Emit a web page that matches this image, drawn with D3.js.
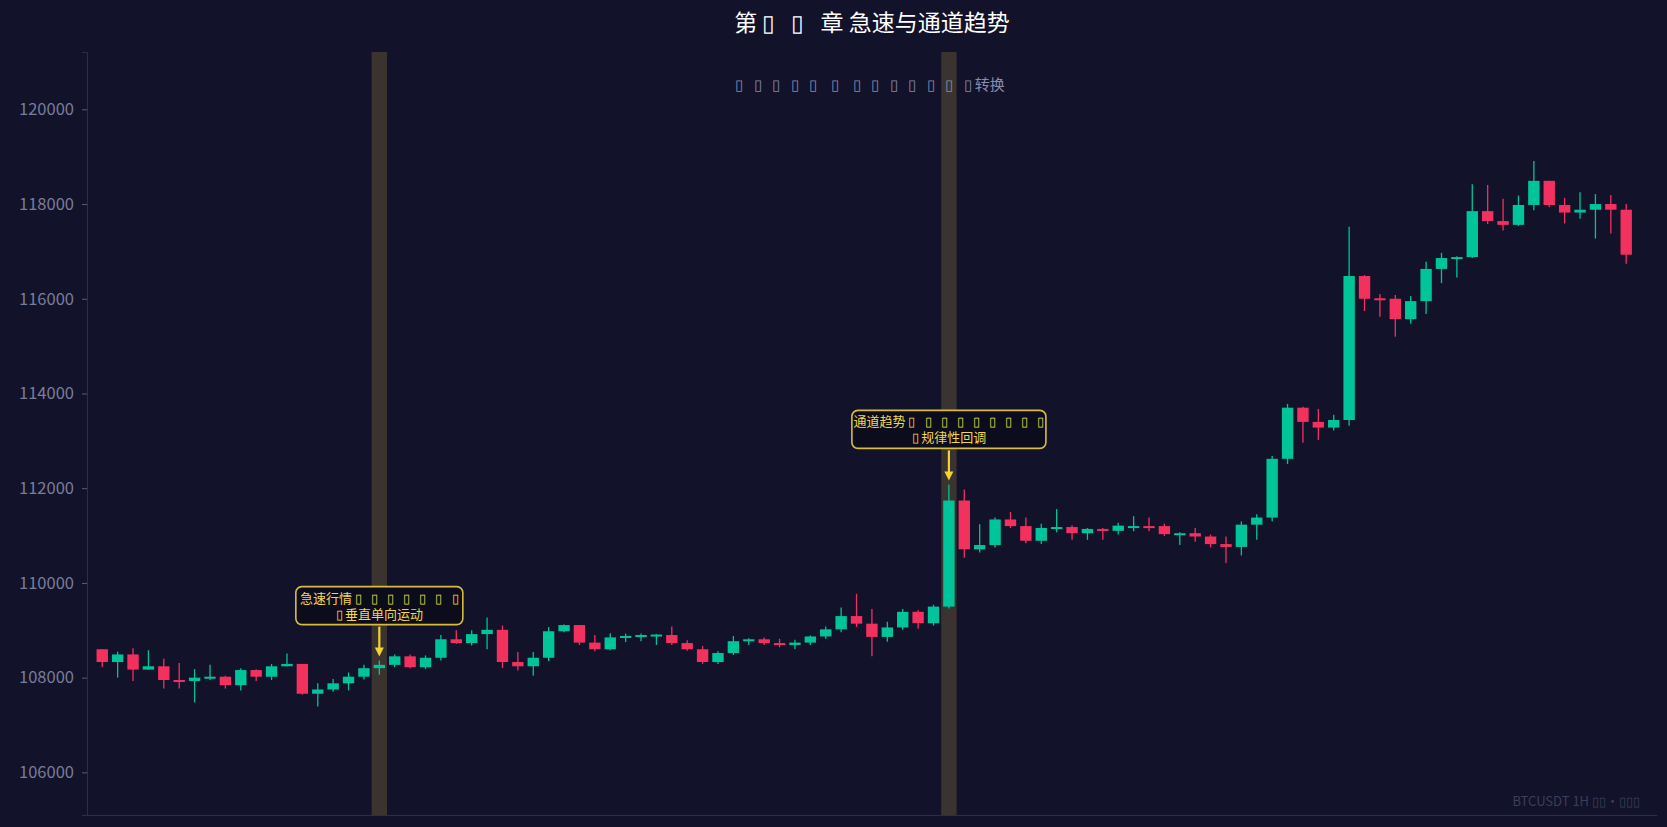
<!DOCTYPE html>
<html>
<head>
<meta charset="utf-8">
<script src="https://cdn.jsdelivr.net/npm/d3@7"></script>
<style>
  body { margin: 0; background: #12122a; }
  svg { display: block; }
</style>
</head>
<body>
<div id="chart"></div>
<script>
// chart size and plot margins
const width = 1667;
const height = 827;
const margin = {left: 87, right: 10, top: 52, bottom: 12};

// candle data (BTCUSDT 1H), one entry per hour
const opens  = [108600,108330,108490,108170,108240,107950,107930,108000,108020,107840,
                108160,108020,108240,108290,107660,107750,107880,108020,108200,108270,
                108450,108220,108420,108810,108730,108920,109010,108330,108240,108420,
                108980,109110,108740,108600,108850,108880,108900,108900,108730,108600,
                108330,108520,108770,108810,108730,108690,108740,108870,109020,109300,
                109140,108860,109060,109390,109150,109500,111740,110710,110800,111340,
                111200,110890,111160,111180,111050,111140,111100,111180,111200,111200,
                111030,111050,110980,110820,110760,111230,111380,112620,113700,113400,
                113280,113440,116480,116010,116000,115570,115950,116630,116860,116880,
                117850,117640,117560,117980,118490,117980,117820,117880,118000,117880];
const highs  = [108600,108550,108620,108580,108400,108310,108180,108270,108040,108200,
                108180,108290,108510,108290,107880,107970,108110,108270,108360,108490,
                108490,108470,108900,109000,109000,109270,109100,108540,108540,109070,
                109120,109110,108900,108940,108930,108930,108920,109080,108790,108670,
                108560,108880,108830,108850,108820,108800,108890,109080,109480,109770,
                109450,109180,109450,109430,109540,112080,111970,111240,111380,111500,
                111380,111250,111560,111220,111160,111160,111270,111410,111380,111250,
                111070,111160,111020,110980,111300,111450,112680,113780,113720,113670,
                113550,117520,116500,116100,116080,116060,116780,116970,116900,118420,
                118400,118110,118180,118910,118490,118130,118250,118210,118190,118000];
const lows   = [108220,108000,107930,108170,107770,107770,107480,107950,107770,107730,
                107930,107950,108240,107640,107390,107700,107730,107960,108060,108220,
                108200,108180,108360,108710,108680,108600,108200,108150,108040,108350,
                108960,108690,108560,108580,108750,108770,108690,108690,108570,108290,
                108290,108480,108690,108690,108640,108600,108690,108820,108960,109070,
                108450,108760,109010,109030,109100,109460,110530,110640,110750,111160,
                110840,110820,111070,110910,110910,110910,111020,111090,111090,110990,
                110800,110870,110750,110420,110580,110910,111300,112510,112960,113020,
                113220,113320,115740,115620,115200,115470,115680,116330,116450,116860,
                117580,117440,117540,117870,117930,117590,117690,117270,117380,116740];
const closes = [108330,108490,108170,108240,107950,107930,108000,108020,107840,108160,
                108020,108240,108290,107660,107750,107880,108020,108200,108270,108450,
                108220,108420,108810,108730,108920,109010,108330,108240,108420,108980,
                109110,108740,108600,108850,108880,108900,108910,108730,108600,108330,
                108520,108770,108810,108730,108690,108740,108870,109020,109300,109140,
                108860,109060,109390,109150,109500,111740,110710,110800,111340,111200,
                110890,111160,111180,111050,111140,111100,111210,111200,111180,111030,
                111050,110980,110820,110760,111230,111380,112620,113700,113400,113280,
                113440,116480,116000,115990,115570,115950,116630,116860,116880,117850,
                117640,117560,117980,118490,117980,117820,117880,118000,117880,116930];

const yTicks = [106000, 108000, 110000, 112000, 114000, 116000, 118000, 120000];

// highlighted candles and their notes
const marks = [18, 55];
const noteLine1 = ["急速行情 ▯ ▯ ▯ ▯ ▯ ▯ ▯", "通道趋势 ▯ ▯ ▯ ▯ ▯ ▯ ▯ ▯ ▯"];
const noteLine2 = ["▯垂直单向运动", "▯规律性回调"];

const titleText = "第 ▯ ▯ 章 急速与通道趋势";
const subtitleText = "▯ ▯ ▯ ▯ ▯  ▯  ▯ ▯ ▯ ▯ ▯ ▯ ▯转换";
const watermark = "BTCUSDT 1H  ▯▯·▯▯▯";

// missing glyphs in the original are drawn wider, so pad the box characters
const wide = s => s.replace(/▯ /g, "▯\u2002\u2009").replace(/▯(?=\S)/g, "▯\u2009");

const data = opens.map((o, i) => ({i: i, o: o, h: highs[i], l: lows[i], c: closes[i]}));

const up = "#00c49a";
const down = "#f2315f";
const font = "'Noto Sans CJK SC', 'Noto Sans', sans-serif";

const svg = d3.select("#chart")
  .append("svg")
  .attr("width", width)
  .attr("height", height)
  .style("font-family", font);

svg.append("rect").attr("width", width).attr("height", height).attr("fill", "#12122a");

const xScale = d3.scaleLinear()
  .domain([-0.99, 101])
  .range([margin.left, width - margin.right]);

const yScale = d3.scaleLinear()
  .domain([105100, 121210])
  .range([height - margin.bottom, margin.top]);

const step = xScale(1) - xScale(0);
const bodyW = step * 0.74;

// highlight bands
svg.selectAll(".band")
  .data(marks)
  .enter()
  .append("rect")
    .attr("x", d => xScale(d) - step / 2)
    .attr("y", margin.top)
    .attr("width", step)
    .attr("height", height - margin.bottom - margin.top)
    .attr("fill", "#3a3330");

// y axis
const yAxis = svg.append("g")
  .attr("transform", `translate(${margin.left},0)`)
  .call(d3.axisLeft(yScale).tickValues(yTicks).tickSize(5).tickPadding(8).tickFormat(d3.format("d")));
yAxis.select(".domain").attr("stroke", "#2c2e48");
yAxis.selectAll(".tick line").attr("stroke", "#5a5c78");
yAxis.selectAll("text").attr("fill", "#7a7d9a").attr("font-size", "16.5px").style("font-family", font);

// x axis line only
const xAxis = svg.append("g")
  .attr("transform", `translate(0,${height - margin.bottom})`)
  .call(d3.axisBottom(xScale).tickValues([]).tickSizeOuter(0));
xAxis.select(".domain").attr("stroke", "#2c2e48");

// candles
const candles = svg.selectAll(".candle")
  .data(data)
  .enter()
  .append("g");

candles.append("line")
  .attr("x1", d => xScale(d.i))
  .attr("x2", d => xScale(d.i))
  .attr("y1", d => yScale(d.h))
  .attr("y2", d => yScale(d.l))
  .attr("stroke", d => d.c >= d.o ? up : down)
  .attr("stroke-width", 1.3);

candles.append("rect")
  .attr("x", d => xScale(d.i) - bodyW / 2)
  .attr("y", d => yScale(Math.max(d.o, d.c)))
  .attr("width", bodyW)
  .attr("height", d => Math.max(2, Math.abs(yScale(d.o) - yScale(d.c))))
  .attr("fill", d => d.c >= d.o ? up : down);

// notes with arrows
marks.forEach((m, k) => {
  const cx = xScale(m);
  const tipY = yScale(highs[m]) - 4;
  const boxBottom = tipY - 32;
  const boxH = 38;
  const boxW = k === 0 ? 167 : 194;
  svg.append("rect")
    .attr("x", cx - boxW / 2).attr("y", boxBottom - boxH)
    .attr("width", boxW).attr("height", boxH)
    .attr("rx", 6)
    .attr("fill", "#0c0c1c").attr("stroke", "#d8bd3c").attr("stroke-width", 1.6);
  svg.append("text").attr("x", cx).attr("y", boxBottom - boxH + 16)
    .attr("text-anchor", "middle").attr("fill", "#f2d64a").attr("font-size", "13px")
    .text(wide(noteLine1[k]));
  svg.append("text").attr("x", cx).attr("y", boxBottom - boxH + 32)
    .attr("text-anchor", "middle").attr("fill", "#f2d64a").attr("font-size", "13px")
    .text(wide(noteLine2[k]));
  svg.append("line").attr("x1", cx).attr("x2", cx)
    .attr("y1", boxBottom + 2).attr("y2", tipY - 6)
    .attr("stroke", "#f2d330").attr("stroke-width", 2.2);
  svg.append("path")
    .attr("d", `M${cx - 4.5},${tipY - 9} L${cx + 4.5},${tipY - 9} L${cx},${tipY} Z`)
    .attr("fill", "#f2d330");
});

// titles
svg.append("text")
  .attr("x", (margin.left + width - margin.right) / 2).attr("y", 31)
  .attr("text-anchor", "middle").attr("fill", "#ffffff").attr("font-size", "23px")
  .text(wide(titleText));

svg.append("text")
  .attr("x", 870).attr("y", 90)
  .attr("text-anchor", "middle").attr("fill", "#8a8cab").attr("font-size", "15px")
  .text(wide(subtitleText));

svg.append("text")
  .attr("x", 1640).attr("y", 806)
  .attr("text-anchor", "end").attr("fill", "#3c3e5c").attr("font-size", "13px")
  .text(watermark);
</script>
</body>
</html>
